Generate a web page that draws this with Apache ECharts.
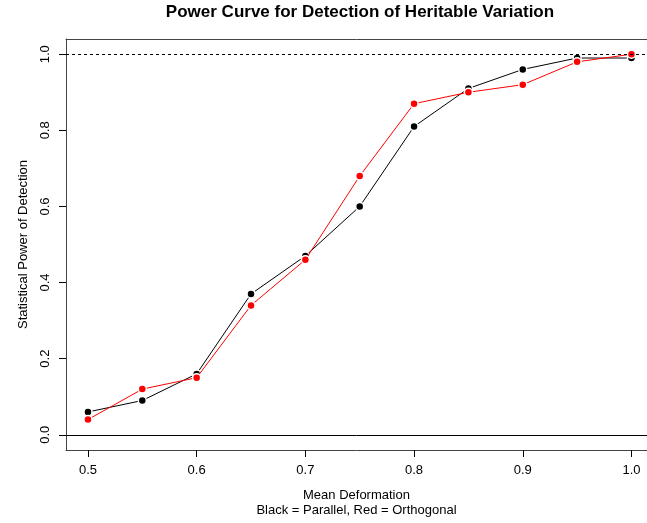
<!DOCTYPE html>
<html>
<head>
<meta charset="utf-8">
<script src="https://cdn.jsdelivr.net/npm/echarts@6/dist/echarts.min.js"></script>
<style>
  html, body { margin: 0; padding: 0; background: #fff; }
  #chart { width: 647px; height: 523px; }
</style>
</head>
<body>
<div id="chart"></div>
<script>
// mean deformation levels
const deformation = [0.5, 0.55, 0.6, 0.65, 0.7, 0.75, 0.8, 0.85, 0.9, 0.95, 1.0];
// statistical power, black = parallel, red = orthogonal
const powerParallel = [0.06, 0.09, 0.16, 0.37, 0.47, 0.60, 0.81, 0.91, 0.96, 0.99, 0.99];
const powerOrthogonal = [0.04, 0.12, 0.15, 0.34, 0.46, 0.68, 0.87, 0.90, 0.92, 0.98, 1.00];
const xTicks = [0.5, 0.6, 0.7, 0.8, 0.9, 1.0];
const yTicks = [0.0, 0.2, 0.4, 0.6, 0.8, 1.0];

const fontFamily = '"Liberation Sans", Arial, Helvetica, sans-serif';

function pairs(xs, ys) {
    return xs.map((x, i) => [x, ys[i]]);
}

function lineSeries(name, values, color) {
    return {
        name: name,
        type: 'line',
        data: pairs(deformation, values),
        symbol: 'circle',
        symbolSize: 8,
        lineStyle: { color: color, width: 1 },
        itemStyle: { color: color, borderColor: '#fff', borderWidth: 1.5 },
        emphasis: { disabled: true },
        z: name === 'Orthogonal' ? 4 : 3
    };
}

const chart = echarts.init(document.getElementById('chart'), null, { renderer: 'canvas' });

// the plot box runs past the right edge of the picture, so the x range is cut there
const option = {
    backgroundColor: '#fff',
    animation: false,
    textStyle: { fontFamily: fontFamily },
    title: {
        text: 'Power Curve for Detection of Heritable Variation',
        left: 360,
        top: 4,
        padding: 0,
        textAlign: 'center',
        textStyle: { fontSize: 17, fontWeight: 'bold', color: '#000', fontFamily: fontFamily }
    },
    grid: {
        left: 66,
        top: 39,
        right: 0,
        height: 414,
        show: false
    },
    xAxis: [{
        type: 'value',
        min: 0.4798,
        max: 1.0143,
        name: 'Mean Deformation\nBlack = Parallel, Red = Orthogonal',
        nameLocation: 'middle',
        nameGap: 38,
        nameTextStyle: { fontSize: 13, color: '#000', lineHeight: 15, fontFamily: fontFamily },
        axisLine: { show: true, onZero: false, lineStyle: { color: '#444', width: 1 } },
        axisTick: {
            show: true,
            customValues: xTicks,
            length: 7,
            lineStyle: { color: '#000' }
        },
        axisLabel: {
            customValues: xTicks,
            formatter: v => v.toFixed(1),
            fontSize: 13,
            color: '#000',
            margin: 14
        },
        splitLine: { show: false }
    }, {
        type: 'value',
        position: 'top',
        min: 0.4798,
        max: 1.0143,
        axisLine: { show: true, onZero: false, lineStyle: { color: '#444', width: 1 } },
        axisTick: { show: false },
        axisLabel: { show: false },
        splitLine: { show: false }
    }],
    yAxis: {
        type: 'value',
        min: -0.04,
        max: 1.04,
        name: 'Statistical Power of Detection',
        nameLocation: 'middle',
        nameGap: 36,
        nameTextStyle: { fontSize: 13, color: '#000', fontFamily: fontFamily },
        axisLine: { show: true, onZero: false, lineStyle: { color: '#444', width: 1 } },
        axisTick: {
            show: true,
            customValues: yTicks,
            length: 7,
            lineStyle: { color: '#000' }
        },
        axisLabel: {
            customValues: yTicks,
            formatter: v => v.toFixed(1),
            rotate: 90,
            fontSize: 13,
            color: '#000',
            margin: 14
        },
        splitLine: { show: false }
    },
    series: [
        Object.assign(lineSeries('Parallel', powerParallel, '#000000'), {
            markLine: {
                silent: true,
                symbol: 'none',
                label: { show: false },
                lineStyle: { color: '#000', width: 1 },
                data: [
                    { yAxis: 0, lineStyle: { type: 'solid' } },
                    { yAxis: 1, lineStyle: { type: [3, 3] } }
                ]
            }
        }),
        lineSeries('Orthogonal', powerOrthogonal, '#ff0000')
    ]
};

chart.setOption(option);
</script>
</body>
</html>
